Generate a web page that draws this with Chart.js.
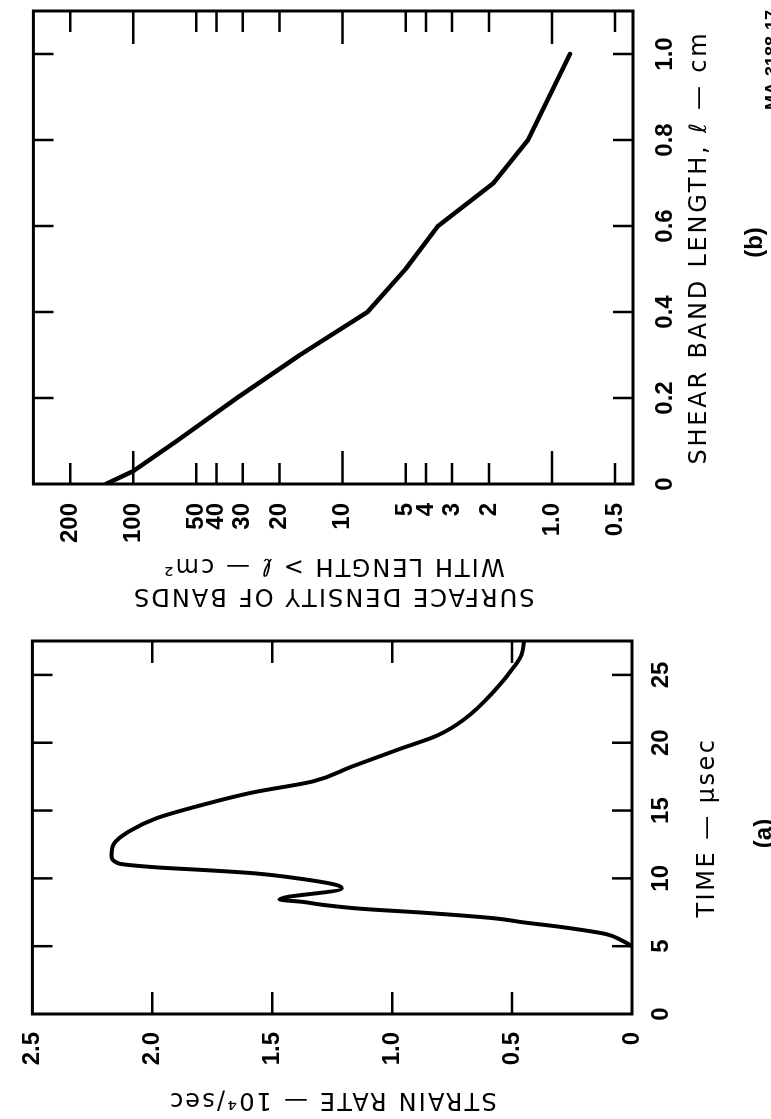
<!DOCTYPE html>
<html><head><meta charset="utf-8">
<script src="https://cdn.jsdelivr.net/npm/chart.js@4/dist/chart.umd.min.js"></script>
<style>
html,body{margin:0;padding:0;background:#fff;overflow:hidden;width:771px;height:1119px;}
#rot{position:absolute;left:0;top:0;width:1119px;height:771px;transform-origin:0 0;transform:translate(0px,1119px) rotate(-90deg);background:#fff;}
#ca{position:absolute;left:0;top:0;}
#cb{position:absolute;left:500px;top:0;}
</style></head><body>
<div id="rot"><canvas id="ca" width="500" height="771"></canvas><canvas id="cb" width="619" height="771"></canvas></div>
<script>
// (a) strain rate vs time
const timeUs     = [5.0, 5.4, 5.9, 6.45, 6.75, 7.05, 7.47, 7.76, 8.05, 8.26, 8.45, 9.25, 9.5, 9.94, 10.38, 10.61, 10.81, 11.1, 11.69, 12.56, 13.43, 14.45, 15.47, 16.34, 17.15, 18.23, 19.53, 20.55, 21.72, 23.9, 25.64, 26.51, 27.5];
const strainRate = [0.0, 0.04, 0.11, 0.31, 0.45, 0.57, 0.87, 1.13, 1.29, 1.37, 1.47, 1.21, 1.23, 1.37, 1.58, 1.78, 1.98, 2.14, 2.17, 2.16, 2.10, 1.98, 1.78, 1.58, 1.33, 1.17, 0.97, 0.81, 0.70, 0.57, 0.49, 0.46, 0.45];
const timeTicks   = [0, 5, 10, 15, 20, 25];
const strainTicks = [0, 0.5, 1.0, 1.5, 2.0, 2.5];

// (b) surface density of bands vs shear band length
const shearLength = [0, 0.03, 0.1, 0.2, 0.3, 0.4, 0.5, 0.6, 0.7, 0.8, 1.0];
const bandDensity = [135, 100, 62, 32, 16, 7.6, 5.0, 3.5, 1.9, 1.3, 0.82];
const lengthTicks  = [0, 0.2, 0.4, 0.6, 0.8, 1.0];
const lengthLabels = ['0', '0.2', '0.4', '0.6', '0.8', '1.0'];
const densityTicks  = [0.5, 1, 2, 3, 4, 5, 10, 20, 30, 40, 50, 100, 200];
const densityLabels = ['0.5', '1.0', '2', '3', '4', '5', '10', '20', '30', '40', '50', '100', '200'];

const FAM = '"Liberation Sans", Arial, sans-serif';
const TFAM = '"DejaVu Sans", sans-serif';
Chart.defaults.font.family = FAM;
Chart.defaults.color = '#000';

function framePlugin(cfg) {
  return {
    id: 'frame' + cfg.caption,
    beforeDraw(chart) {
      Object.values(chart.scales).forEach(s => {
        if (s._lsWrapped) return;
        const orig = s.drawTitle;
        const sp = cfg.spacing[s.id] || 0;
        s.drawTitle = function () {
          const c = this.ctx;
          c.letterSpacing = sp + 'px';
          orig.call(this);
          c.letterSpacing = '0px';
        };
        s._lsWrapped = true;
      });
    },
    afterDatasetsDraw(chart) {
      const {ctx, chartArea: a, scales} = chart;
      ctx.save();
      ctx.strokeStyle = '#000';
      ctx.lineWidth = 2.5;
      ctx.beginPath();
      cfg.xTicks.forEach(v => {
        const px = scales.x.getPixelForValue(v);
        if (px <= a.left + 2 || px >= a.right - 2) return;
        ctx.moveTo(px, a.top); ctx.lineTo(px, a.top + cfg.xLen);
        ctx.moveTo(px, a.bottom); ctx.lineTo(px, a.bottom - cfg.xLen);
      });
      cfg.yTicks.forEach(v => {
        const py = scales.y.getPixelForValue(v);
        if (py <= a.top + 2 || py >= a.bottom - 2) return;
        const len = cfg.yLen(v);
        ctx.moveTo(a.left, py); ctx.lineTo(a.left + len, py);
        ctx.moveTo(a.right, py); ctx.lineTo(a.right - len, py);
      });
      ctx.stroke();
      ctx.lineWidth = 3;
      ctx.strokeRect(a.left, a.top, a.right - a.left, a.bottom - a.top);
      ctx.fillStyle = '#000';
      ctx.font = 'bold 24px ' + FAM;
      ctx.textAlign = 'center';
      ctx.textBaseline = 'middle';
      ctx.fillText(cfg.caption, (a.left + a.right) / 2 + cfg.capDx, chart.height - cfg.capDy);
      if (cfg.extra) cfg.extra(ctx, chart);
      ctx.restore();
    }
  };
}

const tickFont = {family: FAM, size: 24, weight: 'bold'};
const titleFont = {family: TFAM, size: 24, weight: 'normal', lineHeight: 1.2};

new Chart(document.getElementById('ca'), {
  type: 'scatter',
  data: {datasets: [{
    data: timeUs.map((t, i) => ({x: t, y: strainRate[i]})),
    showLine: true, borderColor: '#000', borderWidth: 4, pointRadius: 0,
    cubicInterpolationMode: 'monotone', borderJoinStyle: 'round', borderCapStyle: 'round'
  }]},
  options: {
    responsive: false, animation: false, devicePixelRatio: 1,
    layout: {padding: {left: 0, right: 22, top: 22, bottom: 0}},
    plugins: {legend: {display: false}, tooltip: {enabled: false}},
    scales: {
      x: {
        type: 'linear', min: 0, max: 27.5,
        afterBuildTicks: s => { s.ticks = timeTicks.map(v => ({value: v})); },
        afterFit: s => { s.height = 139; },
        grid: {display: false, drawTicks: false}, border: {display: false},
        ticks: {autoSkip: false, maxRotation: 0, padding: 15, font: tickFont, color: '#000', callback: v => String(v)},
        title: {display: true, text: 'TIME — μsec', font: titleFont, color: '#000', padding: {top: 0, bottom: 49}}
      },
      y: {
        type: 'linear', min: 0, max: 2.5,
        afterBuildTicks: s => { s.ticks = strainTicks.map(v => ({value: v})); },
        afterFit: s => { s.width = 105; },
        grid: {display: false, drawTicks: false}, border: {display: false},
        ticks: {autoSkip: false, padding: 18, font: tickFont, color: '#000', callback: v => v === 0 ? '0' : v.toFixed(1)},
        title: {display: true, text: 'STRAIN RATE — 10⁴/sec', font: titleFont, color: '#000', padding: {top: 5, bottom: 0}}
      }
    }
  },
  plugins: [framePlugin({caption: '(a)', capDx: -6, capDy: 7, spacing: {x: 2.5, y: 2.2}, xTicks: timeTicks, yTicks: strainTicks, xLen: 20, yLen: () => 22})]
});

new Chart(document.getElementById('cb'), {
  type: 'scatter',
  data: {datasets: [{
    data: shearLength.map((l, i) => ({x: l, y: bandDensity[i]})),
    showLine: true, borderColor: '#000', borderWidth: 4.5, pointRadius: 0, tension: 0,
    borderJoinStyle: 'round', borderCapStyle: 'round'
  }]},
  options: {
    responsive: false, animation: false, devicePixelRatio: 1,
    layout: {padding: {left: 0, right: 11, top: 18, bottom: 0}},
    plugins: {legend: {display: false}, tooltip: {enabled: false}},
    scales: {
      x: {
        type: 'linear', min: 0, max: 1.1,
        afterBuildTicks: s => { s.ticks = lengthTicks.map(v => ({value: v})); },
        afterFit: s => { s.height = 138; },
        grid: {display: false, drawTicks: false}, border: {display: false},
        ticks: {autoSkip: false, maxRotation: 0, padding: 18, font: tickFont, color: '#000', callback: (v, i) => lengthLabels[i]},
        title: {display: true, text: 'SHEAR BAND LENGTH, ℓ — cm', font: titleFont, color: '#000', padding: {top: 0, bottom: 57}}
      },
      y: {
        type: 'logarithmic', min: 0.41, max: 300,
        afterBuildTicks: s => { s.ticks = densityTicks.map(v => ({value: v})); },
        afterFit: s => { s.width = 135; },
        grid: {display: false, drawTicks: false}, border: {display: false},
        ticks: {autoSkip: false, padding: 19, font: tickFont, color: '#000', callback: (v, i) => densityLabels[i]},
        title: {display: true, text: ['SURFACE DENSITY OF BANDS', 'WITH LENGTH > ℓ — cm²'], font: {family: TFAM, size: 24, weight: 'normal', lineHeight: 1.25}, color: '#000', padding: {top: 9, bottom: 0}}
      }
    }
  },
  plugins: [framePlugin({caption: '(b)', capDx: 5, capDy: 16, spacing: {x: 2.8, y: 2.1}, xTicks: lengthTicks, yTicks: densityTicks, xLen: 20,
    yLen: v => ([1, 10, 100].includes(v) ? 33 : 21),
    extra: (ctx, chart) => {
      ctx.font = 'bold 18px ' + FAM;
      ctx.textAlign = 'right';
      ctx.textBaseline = 'top';
      ctx.fillText('MA-3188-17', 609, 764);
    }})]
});
</script>
</body></html>
